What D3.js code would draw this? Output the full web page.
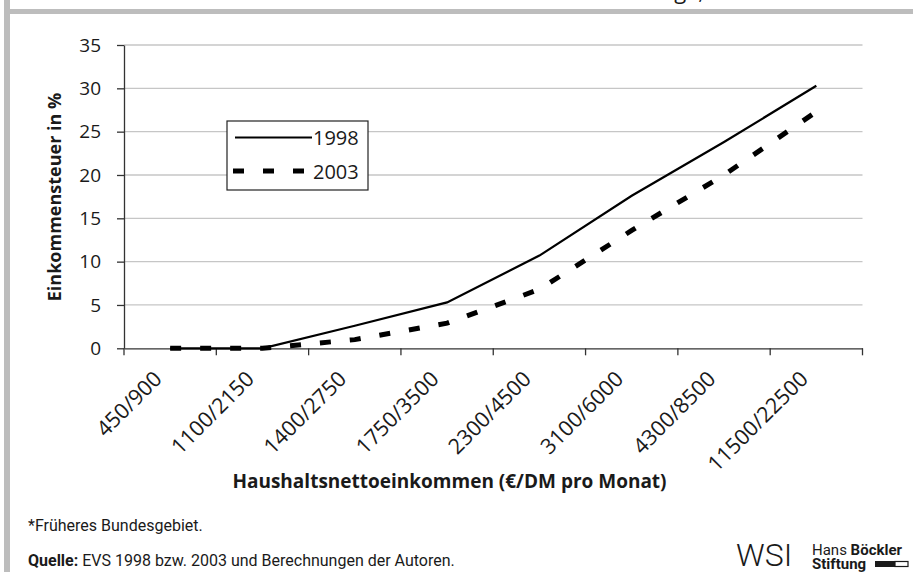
<!DOCTYPE html>
<html lang="de">
<head>
<meta charset="utf-8">
<title>Einkommensteuer 1998 / 2003</title>
<script src="https://d3js.org/d3.v7.min.js"></script>
<style>
  body { margin: 0; background: #fff; }
  svg { display: block; }
</style>
</head>
<body>
<div id="chart"></div>
<script>
  // Data
  var categories = ["450/900", "1100/2150", "1400/2750", "1750/3500",
                    "2300/4500", "3100/6000", "4300/8500", "11500/22500"];
  var values1998 = [0, 0, 2.6, 5.3, 10.7, 17.6, 23.8, 30.3];
  var values2003 = [0, 0, 1.0, 2.9, 6.8, 13.6, 20.0, 27.3];
  var yTicks = [0, 5, 10, 15, 20, 25, 30, 35];
  var seriesNames = ["1998", "2003"];

  var W = 913, H = 572;
  var font = "'Open Sans', 'Noto Sans', sans-serif";
  var narrow = "'Liberation Sans Narrow', 'Arial Narrow', 'Roboto', sans-serif";
  var ink = "#1a1a1a";

  var svg = d3.select("#chart").append("svg")
    .attr("width", W).attr("height", H);

  // frame: grey left bar and grey band at top
  svg.append("rect").attr("x", 4).attr("y", 0).attr("width", 6).attr("height", H).attr("fill", "#bdbdbd");
  svg.append("rect").attr("x", 4).attr("y", 9).attr("width", W - 4).attr("height", 5).attr("fill", "#bdbdbd");
  // title of the page above, cut off at the top edge
  svg.append("text").attr("x", 704).attr("y", -1)
    .attr("text-anchor", "end").attr("font-family", font).attr("font-size", 22)
    .attr("fill", ink).text("Einkommensteuerbelastung*,");

  var x = d3.scaleBand().domain(categories).range([124, 862.5]).padding(0);
  var y = d3.scaleLinear().domain([0, 35]).range([348.3, 45]);
  var cx = function(d) { return x(d) + x.bandwidth() / 2; };

  // gridlines
  svg.append("g").selectAll("line")
    .data(yTicks.filter(function(d) { return d > 0; }))
    .enter().append("line")
      .attr("x1", x.range()[0]).attr("x2", x.range()[1])
      .attr("y1", function(d) { return y(d); })
      .attr("y2", function(d) { return y(d); })
      .attr("stroke", "#c6c6c6").attr("stroke-width", 1.3);

  // y axis
  var yAxis = svg.append("g")
    .attr("transform", "translate(" + x.range()[0] + ",0)")
    .call(d3.axisLeft(y).tickValues(yTicks).tickSize(7).tickPadding(16).tickSizeOuter(0));
  yAxis.select(".domain").attr("stroke", "#333").attr("stroke-width", 1.3);
  yAxis.selectAll(".tick line").attr("stroke", "#333").attr("stroke-width", 1.3);
  yAxis.selectAll(".tick text")
    .attr("font-family", font).attr("font-size", 19).attr("fill", ink);

  // x axis: line, ticks at band borders, rotated labels
  var xAxis = svg.append("g").attr("transform", "translate(0," + y(0) + ")");
  xAxis.call(d3.axisBottom(x).tickSize(0).tickFormat("").tickSizeOuter(0));
  xAxis.select(".domain").attr("stroke", "#333").attr("stroke-width", 1.3);
  var borders = categories.map(function(d) { return x(d); }).concat([x.range()[1]]);
  xAxis.selectAll("line.border").data(borders).enter().append("line")
    .attr("class", "border")
    .attr("x1", function(d) { return d; }).attr("x2", function(d) { return d; })
    .attr("y1", 0).attr("y2", 7)
    .attr("stroke", "#333").attr("stroke-width", 1.3);
  xAxis.selectAll("text.lbl").data(categories).enter().append("text")
    .attr("class", "lbl")
    .attr("transform", function(d) { return "translate(" + (cx(d) - 7) + ",32) rotate(-45)"; })
    .attr("text-anchor", "end")
    .attr("font-family", font).attr("font-size", 21.5).attr("fill", ink)
    .text(function(d) { return d; });

  // axis titles
  svg.append("text")
    .attr("transform", "translate(61,197) rotate(-90)")
    .attr("text-anchor", "middle")
    .attr("font-family", font).attr("font-size", 18).attr("font-weight", "bold")
    .attr("fill", ink).text("Einkommensteuer in %");
  svg.append("text")
    .attr("x", 449.5).attr("y", 488)
    .attr("text-anchor", "middle")
    .attr("font-family", font).attr("font-size", 19).attr("font-weight", "bold")
    .attr("fill", ink).text("Haushaltsnettoeinkommen (\u20AC/DM pro Monat)");

  // lines
  var line = d3.line()
    .x(function(d, i) { return cx(categories[i]); })
    .y(function(d) { return y(d); });

  svg.append("path").datum(values1998)
    .attr("fill", "none").attr("stroke", "#000").attr("stroke-width", 2.2)
    .attr("d", line);
  svg.append("path").datum(values2003)
    .attr("fill", "none").attr("stroke", "#000").attr("stroke-width", 5)
    .attr("stroke-dasharray", "11,19")
    .attr("d", line);

  // legend
  var lg = svg.append("g").attr("transform", "translate(227,121)");
  lg.append("rect").attr("x", 0).attr("y", 0).attr("width", 141).attr("height", 69)
    .attr("fill", "#fff").attr("stroke", "#222").attr("stroke-width", 1.2);
  lg.append("line").attr("x1", 8).attr("x2", 85).attr("y1", 16.5).attr("y2", 16.5)
    .attr("stroke", "#000").attr("stroke-width", 2.2);
  lg.append("line").attr("x1", 6).attr("x2", 85).attr("y1", 50).attr("y2", 50)
    .attr("stroke", "#000").attr("stroke-width", 5).attr("stroke-dasharray", "11,19");
  lg.selectAll("text").data(seriesNames).enter().append("text")
    .attr("x", 86).attr("y", function(d, i) { return 24 + i * 34; })
    .attr("font-family", font).attr("font-size", 20).attr("fill", ink)
    .text(function(d) { return d; });

  // footnotes
  svg.append("text").attr("x", 28).attr("y", 531)
    .attr("font-family", narrow).attr("font-size", 16).attr("fill", ink)
    .text("*Früheres Bundesgebiet.");
  var q = svg.append("text").attr("x", 28).attr("y", 566)
    .attr("font-family", narrow).attr("font-size", 16).attr("fill", ink);
  q.append("tspan").attr("font-weight", "bold").text("Quelle:");
  q.append("tspan").text(" EVS 1998 bzw. 2003 und Berechnungen der Autoren.");

  // logos
  svg.append("text").attr("x", 736).attr("y", 566)
    .attr("font-family", narrow).attr("font-size", 32).attr("font-weight", 300)
    .attr("fill", ink).text("WSI");
  var hb = svg.append("text").attr("x", 812).attr("y", 555)
    .attr("font-family", narrow).attr("font-size", 15).attr("fill", ink);
  hb.append("tspan").text("Hans ");
  hb.append("tspan").attr("font-weight", "bold").text("Böckler");
  svg.append("text").attr("x", 812).attr("y", 569)
    .attr("font-family", narrow).attr("font-size", 15).attr("font-weight", "bold")
    .attr("fill", ink).text("Stiftung");
  svg.append("rect").attr("x", 875).attr("y", 561).attr("width", 20).attr("height", 6).attr("fill", ink);
  svg.append("rect").attr("x", 895).attr("y", 561.5).attr("width", 13).attr("height", 5)
    .attr("fill", "#fff").attr("stroke", ink).attr("stroke-width", 1.2);
</script>
</body>
</html>
